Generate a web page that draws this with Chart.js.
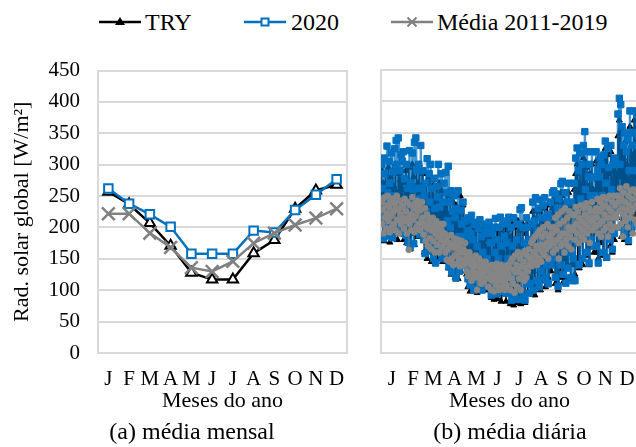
<!DOCTYPE html>
<html><head><meta charset="utf-8">
<script src="https://cdn.jsdelivr.net/npm/chart.js@4.4.1/dist/chart.umd.min.js"></script>
<style>
html,body{margin:0;padding:0;width:636px;height:447px;overflow:hidden;background:#fff;font-family:"Liberation Serif","Tinos","Times New Roman",Times,"DejaVu Serif",serif;}
.lg{position:absolute;top:8px;height:28px;}
.lt{position:absolute;top:7px;font-size:24px;line-height:30px;color:#000;white-space:nowrap;}
#cA{position:absolute;left:0;top:40px;}
#cB{position:absolute;left:362px;top:40px;}
</style></head>
<body>
<svg class="lg" style="left:99px" width="42" height="28"><line x1="0" y1="14" x2="42" y2="14" stroke="#000" stroke-width="2.5"/><polygon points="21,9 26,17 16,17" fill="#000"/></svg>
<div class="lt" style="left:145px">TRY</div>
<svg class="lg" style="left:244px" width="42" height="28"><line x1="0" y1="14" x2="42" y2="14" stroke="#0070C0" stroke-width="2.5"/><rect x="17.5" y="10.5" width="7" height="7" fill="#fff" stroke="#0070C0" stroke-width="2"/></svg>
<div class="lt" style="left:291px">2020</div>
<svg class="lg" style="left:391px" width="42" height="28"><line x1="0" y1="14" x2="42" y2="14" stroke="#808080" stroke-width="2.5"/><path d="M16.5,9.5 L25.5,18.5 M25.5,9.5 L16.5,18.5" stroke="#808080" stroke-width="2"/></svg>
<div class="lt" style="left:437px">Média 2011-2019</div>
<canvas id="cA" width="384" height="407"></canvas>
<canvas id="cB" width="296" height="407"></canvas>
<script>
const monthLabels = ['J','F','M','A','M','J','J','A','S','O','N','D'];
const tryMonthly   = [257, 237, 207, 171, 128, 117, 117, 159, 180, 230, 259, 268];
const y2020Monthly = [262, 238, 221, 201, 158, 158, 158, 195, 192, 228, 252, 277];
const mediaMonthly = [222, 222, 191, 168, 136, 130, 146, 175, 191, 204, 215, 230];
const yTicks = [0, 50, 100, 150, 200, 250, 300, 350, 400, 450];
const monthMidDay = [15, 45, 74, 104, 135, 165, 196, 227, 257, 288, 318, 349];

const tryDaily = [
292,250,205,270,178,240,285,215,260,190,295,230,176,280,245,210,290,185,265,225,300,200,255,180,285,240,195,275,215,290,260,
240,180,270,210,290,175,255,225,295,200,165,260,230,300,190,280,172,245,215,290,185,270,235,300,195,250,220,285,
210,270,160,250,195,285,150,240,215,280,170,230,145,265,200,275,160,245,190,262,150,225,180,270,165,240,200,258,145,215,235,
225,150,255,185,240,135,220,170,250,125,205,160,240,140,215,120,235,170,205,118,225,150,250,130,200,165,235,140,210,180,
200,125,180,105,205,150,98,190,130,205,110,175,100,195,140,205,96,170,120,200,150,112,190,130,175,100,200,140,180,110,165,
170,100,185,130,200,88,160,120,195,85,150,180,98,200,86,140,190,110,195,82,165,125,200,95,180,135,82,170,195,120,
200,110,78,185,95,205,130,76,170,140,200,80,155,210,88,125,195,78,175,140,205,100,160,80,190,145,205,95,170,120,160,
140,205,100,225,130,215,92,190,150,230,105,200,140,225,100,180,235,120,210,150,230,105,190,160,235,120,200,150,220,130,195,
230,140,245,190,110,240,160,215,100,250,200,120,255,165,250,112,215,150,240,118,190,230,140,255,175,215,118,230,160,140,
175,260,125,285,200,300,150,270,135,300,230,180,290,140,310,190,305,240,155,295,195,265,140,285,230,170,300,205,260,160,240,
205,305,160,275,150,270,210,311,175,290,240,155,305,200,325,255,150,315,195,285,230,170,320,250,160,290,225,180,300,220,
285,215,345,235,370,280,355,185,330,225,310,180,335,245,300,195,320,175,275,360,225,330,190,315,245,370,220,335,280,360,230
];
const y2020Daily = [
300,215,262,182,310,285,198,240,329,255,186,305,270,200,318,230,183,288,250,325,195,338,300,242,342,205,290,236,315,195,305,
320,190,277,230,187,300,262,176,240,322,168,270,215,318,260,174,335,230,342,290,205,262,300,188,245,330,210,262,
290,180,250,158,270,225,309,195,162,285,240,300,175,262,205,150,278,230,143,265,190,248,300,165,232,200,285,150,240,205,270,
170,287,150,255,210,297,137,240,200,258,128,225,175,250,140,215,119,230,165,258,185,130,227,160,205,140,240,150,210,185,
210,140,195,118,215,150,108,190,219,120,180,100,205,150,208,115,170,103,198,140,212,125,185,100,160,205,118,190,140,200,150,
195,140,208,105,175,92,190,130,200,95,160,214,110,180,94,150,200,120,216,98,170,140,205,100,185,130,95,175,210,150,
216,130,95,200,84,170,120,215,88,150,86,180,130,205,85,160,228,100,231,150,200,90,175,84,125,215,110,200,150,95,180,
110,205,150,240,100,210,160,247,115,195,140,230,105,244,180,130,215,116,235,165,247,120,185,140,220,110,215,170,240,140,200,
255,150,258,200,120,253,170,230,106,245,210,140,269,180,273,125,230,160,255,111,200,240,135,270,180,225,120,240,160,115,
150,270,115,310,210,326,175,290,140,318,245,190,300,150,330,205,352,260,160,320,200,280,143,300,250,180,320,220,280,170,250,
215,320,170,290,143,280,230,311,185,300,250,160,315,210,337,270,152,325,200,295,245,180,330,260,165,300,240,190,310,230,
300,230,380,250,405,300,395,200,360,240,330,190,350,260,320,210,340,179,290,385,240,350,200,330,260,385,230,350,290,380,240
];
const mediaDaily = [
240,205,228,190,247,215,235,198,222,250,210,232,192,240,218,200,245,225,205,238,195,230,250,212,228,190,242,220,205,235,215,
232,198,245,210,225,190,240,215,164,205,235,220,195,248,212,230,192,238,218,200,242,225,205,235,195,228,210,240,
215,188,205,230,178,200,220,170,198,212,182,205,165,195,215,178,202,160,190,210,172,198,185,160,205,180,195,168,188,205,175,
190,160,178,148,185,165,175,145,170,188,150,172,140,168,182,155,175,142,165,180,150,170,138,160,178,148,165,140,162,175,
158,130,150,122,145,160,125,140,115,152,132,145,120,138,155,125,100,140,128,150,118,135,110,145,125,138,112,130,145,120,135,
130,105,138,118,128,100,140,115,125,98,135,120,108,142,115,128,100,132,118,140,105,125,112,138,100,130,118,108,140,125,
120,135,100,145,118,150,110,132,96,155,128,140,105,160,130,118,150,100,138,158,125,145,115,162,135,120,155,130,165,140,150,
150,175,138,180,160,145,185,155,170,140,190,165,150,195,172,145,185,160,200,170,155,190,165,175,205,150,185,170,200,175,190,
180,160,200,175,215,165,195,180,220,150,205,185,170,225,190,175,210,160,230,190,180,215,170,200,225,185,195,165,220,200,
195,220,180,232,205,190,225,175,215,200,235,185,210,195,230,180,220,205,238,190,215,200,230,175,225,210,240,195,215,205,225,
200,230,215,245,190,225,205,240,185,230,210,248,195,220,235,200,245,215,185,230,250,205,225,195,240,215,250,200,235,220,
215,250,200,240,225,262,205,245,230,185,255,220,240,210,265,228,200,250,235,215,258,225,245,190,260,230,212,255,235,205,245
];

const FF = '"Liberation Serif", Tinos, "Times New Roman", Times, "DejaVu Serif", serif';
const tickFont = {family: FF, size: 21};
const axisTitleFont = {family: FF, size: 22, weight: 'normal'};
const captionFont = {family: FF, size: 24, weight: 'normal'};
const GRID = '#d9d9d9';

function yAxis(showLabels, width) {
  return {
    min: 0, max: 450,
    afterBuildTicks: s => { s.ticks = yTicks.map(v => ({value: v})); },
    ticks: {display: showLabels, font: tickFont, color: '#000', padding: 18},
    grid: {color: GRID, lineWidth: 2, drawTicks: false},
    border: {display: true, color: GRID, width: 2},
    title: {display: showLabels, text: 'Rad. solar global [W/m²]', font: axisTitleFont, color: '#000', padding: {top: 9, bottom: 0}},
    afterFit: s => { s.width = width; }
  };
}
function spacerRight(width, showBorder) {
  return {position: 'right', display: true, grid: {display: false, drawTicks: false}, ticks: {display: false},
    border: {display: showBorder, color: GRID, width: 2}, afterFit: s => { s.width = width; }};
}
function xTitle() {
  return {display: true, text: 'Meses do ano', font: axisTitleFont, color: '#000', padding: {top: 0, bottom: 0}};
}
function chartTitle(t) {
  return {display: true, text: t, position: 'bottom', font: captionFont, color: '#000', padding: {top: 4, bottom: 0}};
}
const xFit = s => { s.height = 61.2; };

new Chart(document.getElementById('cA'), {
  type: 'line',
  data: {
    labels: monthLabels,
    datasets: [
      {label: 'TRY', data: tryMonthly, borderColor: '#000', borderWidth: 2.5, pointStyle: 'triangle', pointRadius: 6,
       pointBorderWidth: 2, pointBorderColor: '#000', pointBackgroundColor: '#fff', order: 2},
      {label: '2020', data: y2020Monthly, borderColor: '#0070C0', borderWidth: 2.5, pointStyle: 'rect', pointRadius: 6,
       pointBorderWidth: 2, pointBorderColor: '#0070C0', pointBackgroundColor: '#fff', order: 1},
      {label: 'Média 2011-2019', data: mediaMonthly, borderColor: '#808080', borderWidth: 2.5, pointStyle: 'crossRot', pointRadius: 9,
       pointBorderWidth: 2.5, pointBorderColor: '#808080', pointBackgroundColor: '#808080', order: 0}
    ]
  },
  options: {
    responsive: false, animation: false, devicePixelRatio: 1,
    layout: {padding: {left: 0, right: 0, top: 30, bottom: 0}},
    plugins: {legend: {display: false}, tooltip: {enabled: false}, title: chartTitle('(a) média mensal')},
    scales: {
      x: {type: 'category', offset: true, grid: {display: false, drawTicks: false},
          border: {display: true, color: GRID, width: 2},
          ticks: {font: tickFont, color: '#000', padding: 14, maxRotation: 0, autoSkip: false},
          title: xTitle(), afterFit: xFit},
      y: yAxis(true, 98),
      yR: spacerRight(37, true)
    }
  }
});

new Chart(document.getElementById('cB'), {
  type: 'line',
  data: {
    datasets: [
      {label: 'TRY', data: tryDaily.map((v, i) => ({x: i, y: v})), borderColor: '#000', borderWidth: 1.5,
       pointStyle: 'triangle', pointRadius: 3.5, pointBorderWidth: 1, pointBorderColor: '#000', pointBackgroundColor: '#000', order: 2},
      {label: '2020', data: y2020Daily.map((v, i) => ({x: i, y: v})), borderColor: 'rgba(0,112,192,0.72)', borderWidth: 2.4,
       pointStyle: 'rect', pointRadius: 4.5, pointBorderWidth: 1, pointBorderColor: '#0070C0', pointBackgroundColor: '#0070C0', order: 1},
      {label: 'Média 2011-2019', data: mediaDaily.map((v, i) => ({x: i, y: v})), borderColor: 'rgba(128,128,128,0.6)', borderWidth: 1.1,
       pointStyle: 'circle', pointRadius: 3.3, pointBorderWidth: 0, pointBackgroundColor: '#858585', order: 0}
    ]
  },
  options: {
    responsive: false, animation: false, devicePixelRatio: 1,
    layout: {padding: {left: 0, right: 0, top: 30, bottom: 0}},
    plugins: {legend: {display: false}, tooltip: {enabled: false}, title: chartTitle('(b) média diária')},
    scales: {
      x: {type: 'linear', min: -0.5, max: 364.5,
          afterBuildTicks: s => { s.ticks = monthMidDay.map(v => ({value: v})); },
          grid: {display: false, drawTicks: false},
          border: {display: true, color: GRID, width: 2},
          ticks: {font: tickFont, color: '#000', padding: 14, maxRotation: 0, autoSkip: false,
                  callback: (v, i) => monthLabels[i]},
          title: xTitle(), afterFit: xFit},
      y: yAxis(false, 19),
      yR: spacerRight(20, false)
    }
  }
});
</script>
</body></html>
